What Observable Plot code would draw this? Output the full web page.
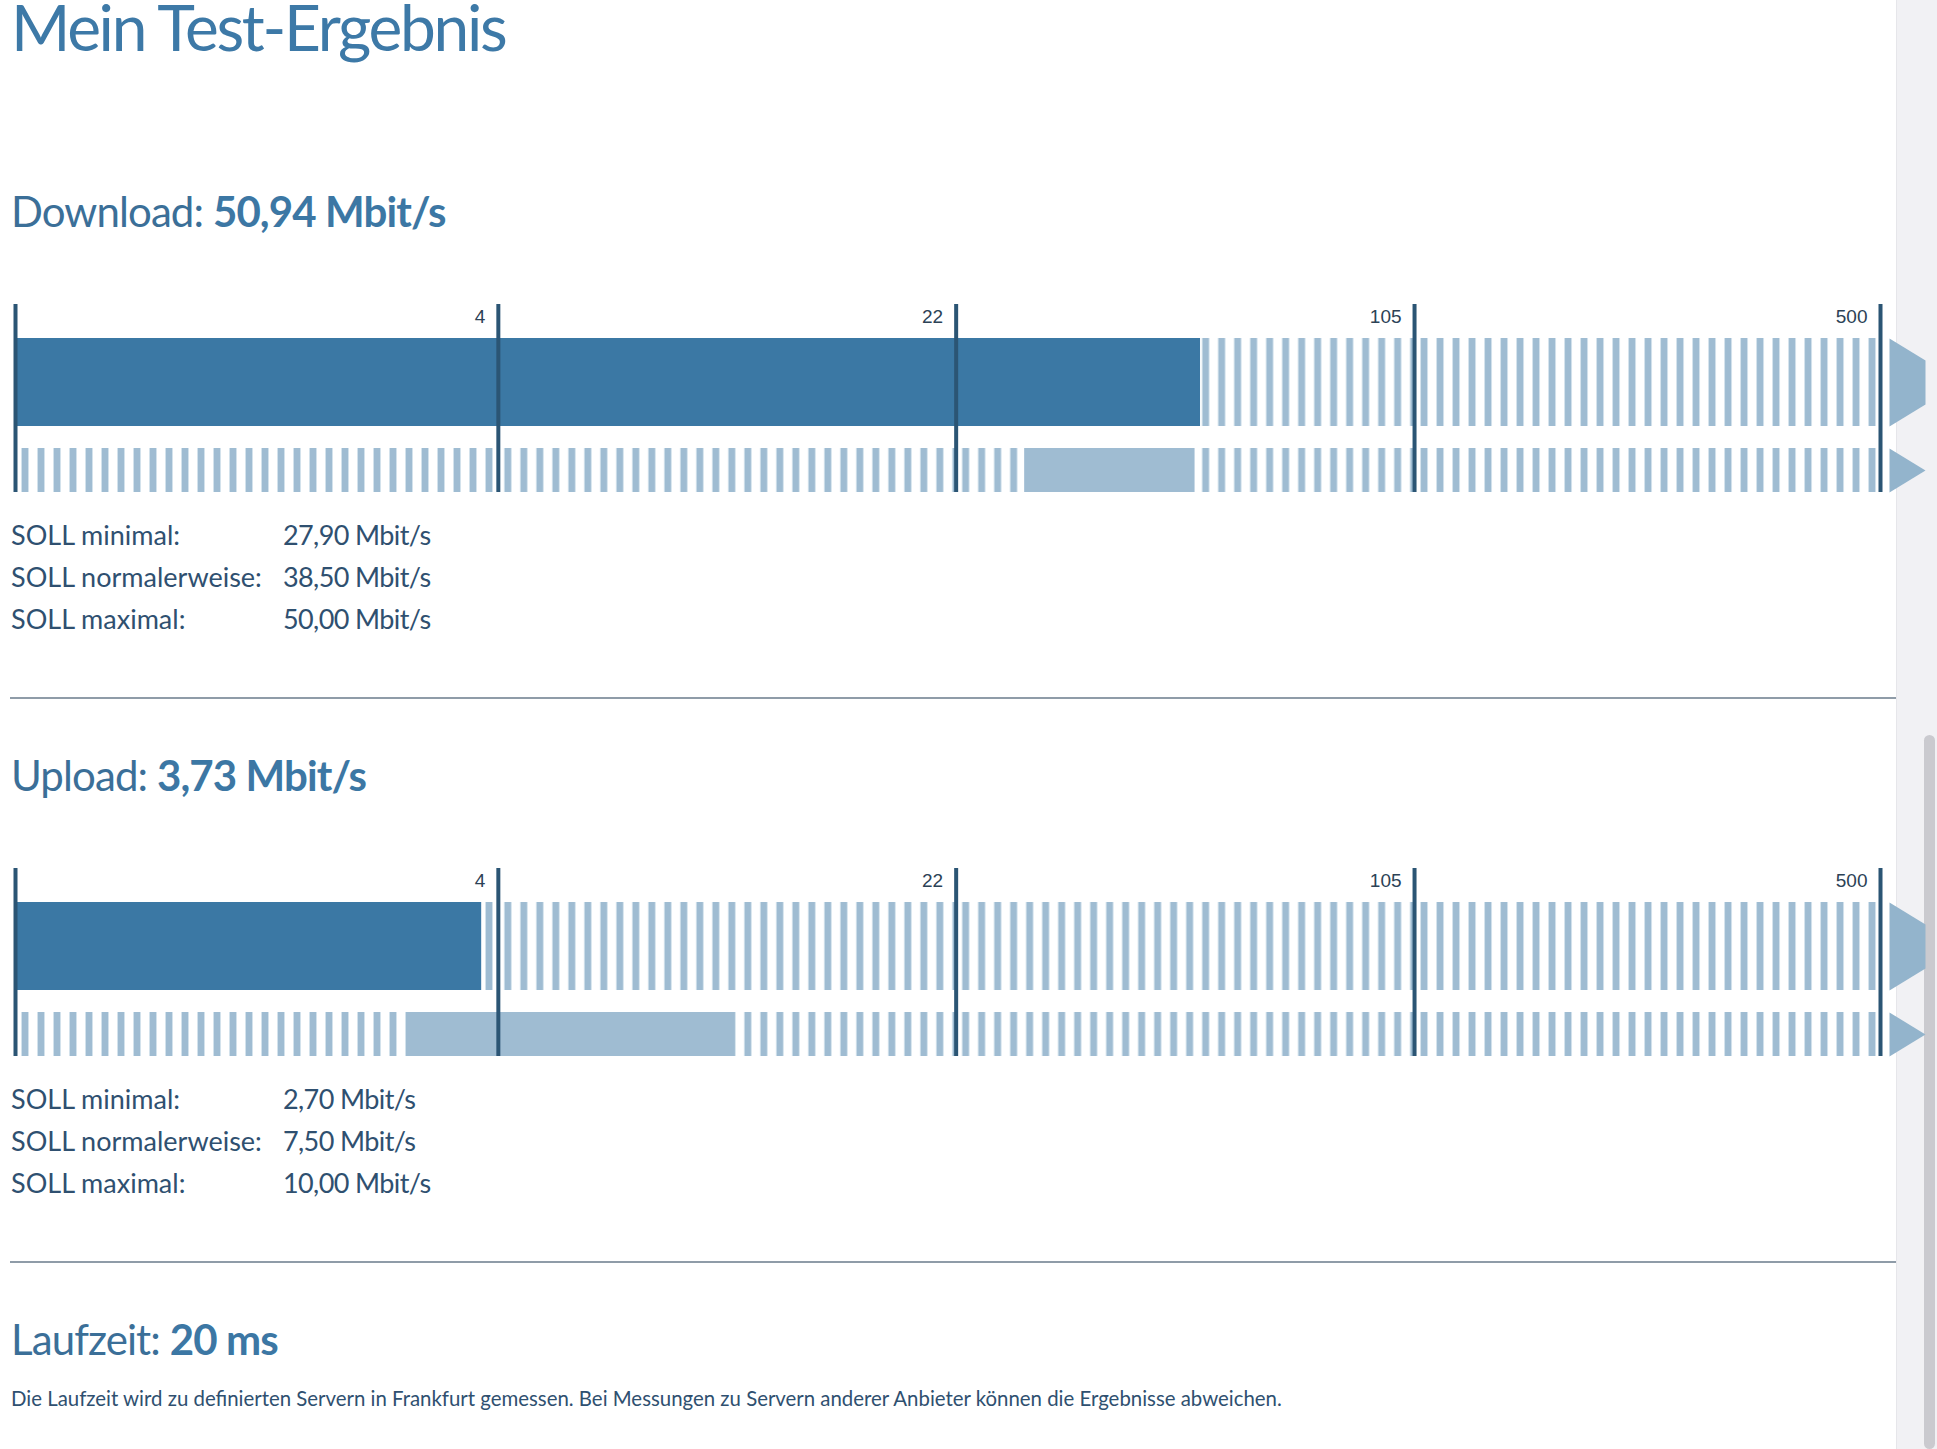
<!DOCTYPE html>
<html><head><meta charset="utf-8">
<script src="https://cdn.jsdelivr.net/npm/d3@7"></script>
<script src="https://cdn.jsdelivr.net/npm/@observablehq/plot@0.6"></script>
<style>
html,body{margin:0;padding:0;background:#fff;}
body{width:1937px;height:1449px;overflow:hidden;position:relative;font-family:Lato,"Open Sans",sans-serif;}
.t{position:absolute;white-space:nowrap;line-height:1;}
.title{color:#3d79a7;letter-spacing:-2.3px;}
.head{color:#3b6f98;letter-spacing:-0.9px;}
.head b{color:#3c77a4;font-weight:700;}
.soll{color:#2f5070;}
.val{color:#2f5070;letter-spacing:-0.6px;}
.cap{color:#2f5070;}
.sep{position:absolute;left:10px;width:1889px;height:2px;background:#8f9ca8;}
.chart{position:absolute;left:0;z-index:2;}
.scroll{position:absolute;left:1896px;top:0;width:41px;height:1449px;background:#f1f1f4;border-left:1px solid #e6e6ea;z-index:1;}
.thumb{position:absolute;left:1924px;top:735px;width:11px;height:714px;background:#cacacf;border-radius:6px;z-index:1;}
</style></head>
<body>
<div class="scroll"></div><div class="thumb"></div>
<script>
// ---- data ----
const pageTitle = "Mein Test-Ergebnis";
const sectionNames = ["Download", "Upload"];
const measured = [50.94, 3.73];
const sollMin = [27.90, 2.70];
const sollNormal = [38.50, 7.50];
const sollMax = [50.00, 10.00];
const sollLabels = ["SOLL minimal:", "SOLL normalerweise:", "SOLL maximal:"];
const tickValues = [4, 22, 105, 500];
const unit = "Mbit/s";
const latencyLabel = "Laufzeit";
const latencyMs = 20;
const caption = "Die Laufzeit wird zu definierten Servern in Frankfurt gemessen. Bei Messungen zu Servern anderer Anbieter können die Ergebnisse abweichen.";

const fmt = v => v.toFixed(2).replace(".", ",");
const root = document.body;

// place a text block so that its baseline sits at `baseline` (Lato metrics)
function addText(html, left, baseline, fs, cls, lh) {
  const d = document.createElement("div");
  d.className = "t " + cls;
  d.style.left = left + "px";
  d.style.fontSize = fs + "px";
  if (lh) {
    d.style.lineHeight = lh + "px";
    d.style.top = Math.max(0, baseline - (lh / 2 + 0.387 * fs)) + "px";
  } else {
    d.style.top = (baseline - 0.887 * fs) + "px";
  }
  d.innerHTML = html;
  root.appendChild(d);
  return d;
}

const arrowBig = {draw(ctx) { ctx.moveTo(0, -44); ctx.lineTo(36, -22); ctx.lineTo(36, 22); ctx.lineTo(0, 44); ctx.closePath(); }};
const arrowSmall = {draw(ctx) { ctx.moveTo(0, -22); ctx.lineTo(36, 0); ctx.lineTo(0, 22); ctx.closePath(); }};

function makeChart(i) {
  const id = "seg" + i;
  const bounds = [0, ...tickValues];
  const segs = d3.pairs(bounds);
  const rows = ["Ergebnis", "SOLL"];
  const last = tickValues[tickValues.length - 1];
  const stripeMarks = segs.flatMap(([a, b], k) => [
    Plot.rect([{a, b, row: rows[0]}], {x1: "a", x2: "b", y: "row", fill: `url(#${id}-${k})`}),
    Plot.rect([{a, b, row: rows[1]}], {x1: "a", x2: "b", y: "row", insetBottom: 44, fill: `url(#${id}-${k})`})
  ]);
  const svg = Plot.plot({
    width: 1937, height: 210,
    marginTop: 14, marginBottom: 8, marginLeft: 15, marginRight: 57,
    x: {type: "symlog", domain: [0, last], range: [15, 1880], axis: null},
    y: {type: "band", domain: rows, range: [48, 246], paddingInner: 0.2, paddingOuter: 0, axis: null},
    style: {background: "transparent", overflow: "visible"},
    marks: [
      ...stripeMarks,
      Plot.rect([{v: measured[i], row: rows[0]}], {x1: 0, x2: "v", y: "row", fill: "#3b78a4"}),
      Plot.rect([{lo: sollMin[i], hi: sollMax[i], row: rows[1]}], {x1: "lo", x2: "hi", y: "row", insetBottom: 44, fill: "#9fbcd2"}),
      Plot.ruleX(bounds, {x: d => d, stroke: "#2b5574", strokeWidth: 4}),
      Plot.text(tickValues, {x: d => d, text: d => String(d), frameAnchor: "top", lineAnchor: "top", dy: 5, dx: -13,
        textAnchor: "end", fontSize: 19, fontFamily: "Liberation Sans, Arial, sans-serif", fill: "#2c4256"}),
      Plot.dot([last], {x: d => d, y: () => rows[0], symbol: arrowBig, r: 10, fill: "#93b4cc", dx: 9}),
      Plot.dot([last], {x: d => d, y: () => rows[1], symbol: arrowSmall, r: 10, fill: "#93b4cc", dx: 9, dy: -22})
    ]
  });
  const xs = svg.scale("x");
  const defs = d3.select(svg).insert("defs", ":first-child");
  segs.forEach(([a], k) => {
    const x0 = xs.apply(a);
    const p = defs.append("pattern").attr("id", `${id}-${k}`).attr("patternUnits", "userSpaceOnUse")
      .attr("x", x0 + 6).attr("y", 0).attr("width", 16).attr("height", 400);
    p.append("rect").attr("x", 0).attr("y", 0).attr("width", 8).attr("height", 400).attr("fill", "#d3e2ec");
    p.append("rect").attr("x", 1).attr("y", 0).attr("width", 6).attr("height", 400).attr("fill", "#9fbcd2");
  });
  svg.classList.add("chart");
  return svg;
}

addText(pageTitle, 11, 52, 64, "title", 54);
const sectionOffset = 564;
sectionNames.forEach((name, i) => {
  const off = sectionOffset * i;
  addText(`${name}: <b>${fmt(measured[i])} ${unit}</b>`, 11, 227 + off, 42, "head");
  const svg = makeChart(i);
  svg.style.top = (290 + off) + "px";
  root.appendChild(svg);
  const vals = [sollMin[i], sollNormal[i], sollMax[i]];
  sollLabels.forEach((lab, j) => {
    addText(lab, 11, 545 + off + 42 * j, 27, "soll");
    addText(`${fmt(vals[j])} ${unit}`, 283, 545 + off + 42 * j, 27, "val");
  });
  const sep = document.createElement("div");
  sep.className = "sep";
  sep.style.top = (697 + off) + "px";
  root.appendChild(sep);
});
addText(`${latencyLabel}: <b>${latencyMs} ms</b>`, 11, 1355, 42, "head");
addText(caption, 11, 1406, 20.4, "cap");
</script>
</body></html>
